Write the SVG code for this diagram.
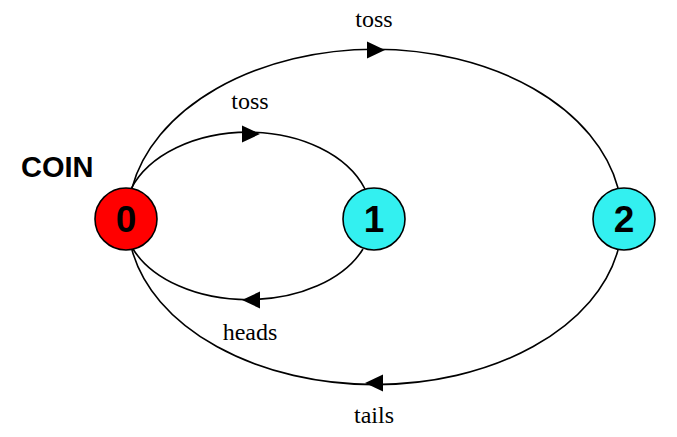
<svg xmlns="http://www.w3.org/2000/svg" width="677" height="437" viewBox="0 0 677 437">
<style>
.edge{fill:none;stroke:#000;stroke-width:1.6}
.node{stroke:#000;stroke-width:1.6}
.num{font-family:"Liberation Sans",Arial,sans-serif;font-weight:bold;font-size:37px;text-anchor:middle}
.lbl{font-family:"Liberation Serif","Times New Roman",serif;font-size:24px;text-anchor:middle}
.title{font-family:"Liberation Sans",Arial,sans-serif;font-weight:bold;font-size:29px}
</style>
<defs>
<path id="ah" d="M0,0 L-18,-8.5 L-18,8.5 Z" fill="#000"/>
</defs>
<rect width="677" height="437" fill="#fff"/>
<g id="connectors">
<path class="edge" d="M131,189 A124,85 0 0 1 365,189"/>
<path class="edge" d="M363,249 A124,81 0 0 1 133,249"/>
<path class="edge" d="M132,188 A247,169 0 0 1 618,188"/>
<path class="edge" d="M618,250 A247,164 0 0 1 132,250"/>
<use href="#ah" transform="translate(260,134)"/>
<use href="#ah" transform="translate(385,50)"/>
<use href="#ah" transform="translate(242,300) rotate(180)"/>
<use href="#ah" transform="translate(365,383) rotate(180)"/>
<text class="lbl" x="250" y="109">toss</text>
<text class="lbl" x="374" y="27">toss</text>
<text class="lbl" x="250" y="340">heads</text>
<text class="lbl" x="374" y="423">tails</text>
</g>
<text class="title" x="21" y="177">COIN</text>
<g id="node0">
<circle class="node" cx="126" cy="219" r="31" fill="#ff0000"/>
<text class="num" x="126" y="232">0</text>
</g>
<g id="node1">
<circle class="node" cx="374" cy="219" r="31" fill="#33f0f0"/>
<text class="num" x="374" y="232">1</text>
</g>
<g id="node2">
<circle class="node" cx="624" cy="219" r="31" fill="#33f0f0"/>
<text class="num" x="624" y="232">2</text>
</g>
</svg>
